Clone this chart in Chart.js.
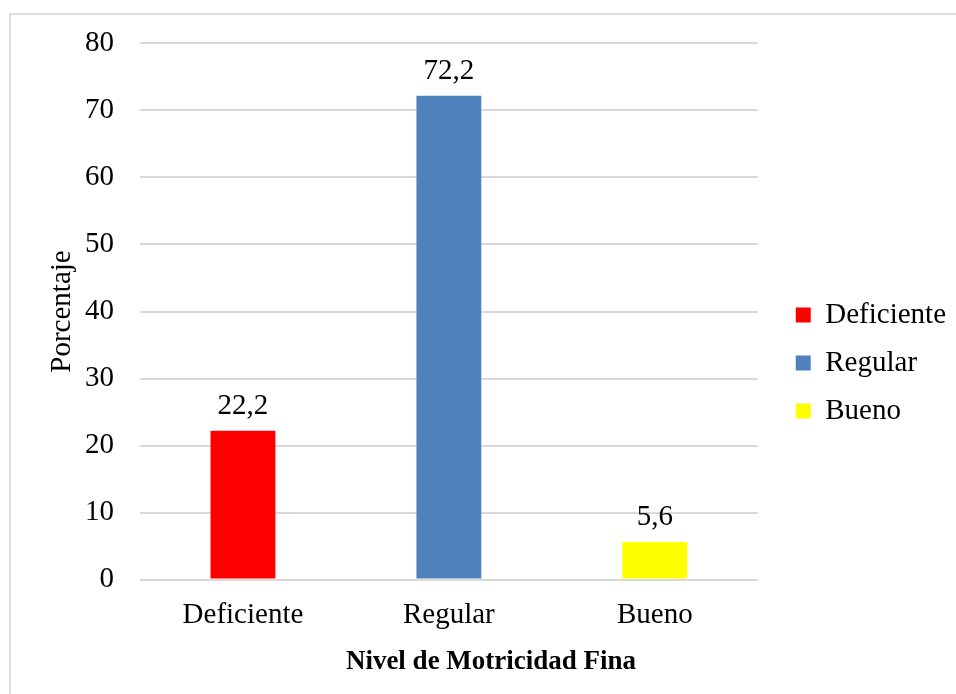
<!DOCTYPE html>
<html>
<head>
<meta charset="utf-8">
<script src="https://cdn.jsdelivr.net/npm/chart.js@4"></script>
<style>
  html, body { margin: 0; padding: 0; background: #fff; overflow: hidden; }
  #marco { position: absolute; left: 9px; top: 13px; width: 1000px; height: 1000px; border: 2px solid #dedede; }
  #wrap { position: absolute; left: 0; top: 0; width: 956px; height: 694px; }
</style>
</head>
<body>
<div id="marco"></div>
<div id="wrap"><canvas id="grafico" width="956" height="694"></canvas></div>
<script>
// Datos
const niveles = ['Deficiente', 'Regular', 'Bueno'];
const porcentajes = [22.2, 72.2, 5.6];
const colores = ['#FF0000', '#4F81BD', '#FFFF00'];
const ticksY = [0, 10, 20, 30, 40, 50, 60, 70, 80];

const fuente = "'Liberation Serif', 'Times New Roman', serif";

// Etiquetas de valor sobre cada barra
const etiquetas = {
  id: 'etiquetas',
  afterDatasetsDraw(chart) {
    const ctx = chart.ctx;
    const meta = chart.getDatasetMeta(0);
    ctx.save();
    ctx.font = '29px ' + fuente;
    ctx.fillStyle = '#000';
    ctx.textAlign = 'center';
    ctx.textBaseline = 'alphabetic';
    meta.data.forEach((bar, i) => {
      ctx.fillText(porcentajes[i].toFixed(1).replace('.', ','), bar.x, bar.y - 17);
    });
    ctx.restore();
  }
};

new Chart(document.getElementById('grafico'), {
  type: 'bar',
  data: {
    labels: niveles,
    datasets: [{ label: 'Porcentaje', data: porcentajes, backgroundColor: colores,
                 barPercentage: 0.63, categoryPercentage: 0.5 }]
  },
  options: {
    responsive: false,
    animation: false,
    layout: { padding: { top: 32, right: 0, bottom: 0, left: 26 } },
    plugins: {
      tooltip: { enabled: false },
      title: {
        display: true, position: 'bottom', text: 'Nivel de Motricidad Fina', color: '#000',
        font: { family: fuente, size: 27, weight: 'bold' }, padding: { top: 0, bottom: 16 }
      },
      legend: {
        position: 'right',
        maxWidth: 220,
        labels: {
          color: '#000',
          font: { family: fuente, size: 29 },
          boxWidth: 15, boxHeight: 15, padding: 19,
          generateLabels: chart => niveles.map((n, i) => ({
            text: n, fillStyle: colores[i], strokeStyle: colores[i], lineWidth: 0, index: i
          }))
        }
      }
    },
    scales: {
      x: {
        afterFit: s => { s.height = 66; },
        grid: { display: false },
        border: { display: false },
        ticks: { color: '#000', font: { family: fuente, size: 29 }, padding: 10 }
      },
      y: {
        min: 0, max: 80,
        afterBuildTicks: s => { s.ticks = ticksY.map(v => ({ value: v })); },
        afterFit: s => { s.width = 114; },
        grid: { color: '#d9d9d9', lineWidth: 2, drawTicks: false },
        border: { display: false },
        ticks: { color: '#000', font: { family: fuente, size: 29 }, padding: 26 },
        title: { display: true, text: 'Porcentaje', color: '#000',
                 font: { family: fuente, size: 29 }, padding: { top: 19, bottom: 0 } }
      },
      derecha: {
        position: 'right', display: true,
        afterFit: s => { s.width = 19; },
        grid: { display: false }, border: { display: false },
        ticks: { display: false }
      }
    }
  },
  plugins: [etiquetas]
});
</script>
</body>
</html>
